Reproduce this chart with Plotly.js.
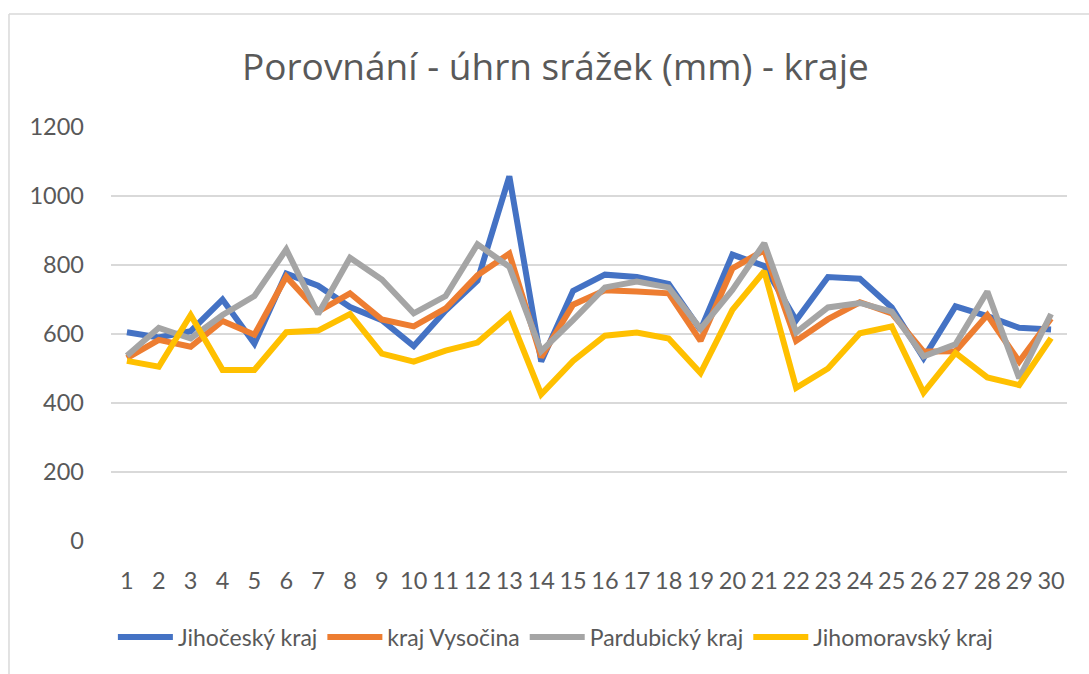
<!DOCTYPE html>
<html>
<head>
<meta charset="utf-8">
<script src="https://cdn.plot.ly/plotly-3.0.1.min.js"></script>
<style>
html,body{margin:0;padding:0;background:#fff;}
#chart{width:1089px;height:674px;}
</style>
</head>
<body>
<div id="chart"></div>
<script>
const categories = ['1','2','3','4','5','6','7','8','9','10','11','12','13','14','15','16','17','18','19','20','21','22','23','24','25','26','27','28','29','30'];
const seriesNames = ['Jihočeský kraj','kraj Vysočina','Pardubický kraj','Jihomoravský kraj'];
const jihocesky   = [605,590,608,700,572,775,740,678,640,565,668,755,1057,520,725,772,765,745,612,830,797,640,765,760,677,530,680,652,618,613];
const vysocina    = [530,583,563,638,598,766,665,718,642,622,674,770,833,533,685,727,723,718,580,790,843,580,643,692,660,549,550,655,520,645];
const pardubicky  = [537,618,587,655,710,845,658,821,758,660,710,860,795,550,640,735,752,735,615,728,863,605,677,690,665,535,570,723,472,658];
const jihomoravsky= [522,505,655,496,496,605,610,658,543,520,552,575,655,425,522,595,604,587,487,670,782,444,500,602,622,430,545,474,452,588];
const colors = ['#4472C4','#ED7D31','#A5A5A5','#FFC000'];
const yTicks = [0,200,400,600,800,1000,1200];

const allSeries = [jihocesky, vysocina, pardubicky, jihomoravsky];
const traces = allSeries.map((vals, i) => ({
  type: 'scatter',
  mode: 'lines',
  x: categories,
  y: vals,
  name: seriesNames[i],
  line: {color: colors[i], width: 6, shape: 'linear'},
  hoverinfo: 'x+y+name'
}));

const tickFont = {family: 'Lato, "Open Sans", sans-serif', size: 23.5, color: '#595959'};
const legendFont = {family: 'Lato, "Open Sans", sans-serif', size: 23, color: '#595959'};

const layout = {
  width: 1089,
  height: 674,
  margin: {l: 111, r: 22, t: 127, b: 133, autoexpand: false},
  paper_bgcolor: '#ffffff',
  plot_bgcolor: '#ffffff',
  title: {
    text: 'Porovnání - úhrn srážek (mm) - kraje',
    font: {family: '"Open Sans", "Noto Sans", sans-serif', size: 37, color: '#595959'},
    x: 0.51, xanchor: 'center',
    y: 0.9, yanchor: 'middle', yref: 'container'
  },
  xaxis: {
    type: 'category',
    range: [-0.5, 29.5],
    showgrid: false,
    zeroline: false,
    showline: false,
    ticks: '',
    tickfont: tickFont,
    ticklabelstandoff: 23,
    automargin: false,
    fixedrange: true
  },
  yaxis: {
    range: [0, 1200],
    tickvals: yTicks,
    ticktext: yTicks.map(String),
    showgrid: true,
    gridcolor: '#d9d9d9',
    gridwidth: 1.5,
    zeroline: false,
    showline: false,
    ticks: '',
    tickfont: tickFont,
    ticklabelstandoff: 26,
    automargin: false,
    fixedrange: true
  },
  showlegend: true,
  legend: {
    orientation: 'h',
    x: 0.51, xanchor: 'center', xref: 'container',
    y: 0.055, yanchor: 'middle', yref: 'container',
    font: legendFont,
    itemwidth: 55,
    traceorder: 'normal',
    bgcolor: 'rgba(0,0,0,0)'
  },
  shapes: [
    {type: 'line', xref: 'paper', yref: 'paper', x0: -0.1067, x1: 1.05, y0: 1.2729, y1: 1.2729, line: {color: '#d9d9d9', width: 1.5}},
    {type: 'line', xref: 'paper', yref: 'paper', x0: -0.1067, x1: -0.1067, y0: 1.2729, y1: -0.35, line: {color: '#d9d9d9', width: 1.5}}
  ]
};

Plotly.newPlot('chart', traces, layout, {displayModeBar: false, staticPlot: true});
</script>
</body>
</html>
